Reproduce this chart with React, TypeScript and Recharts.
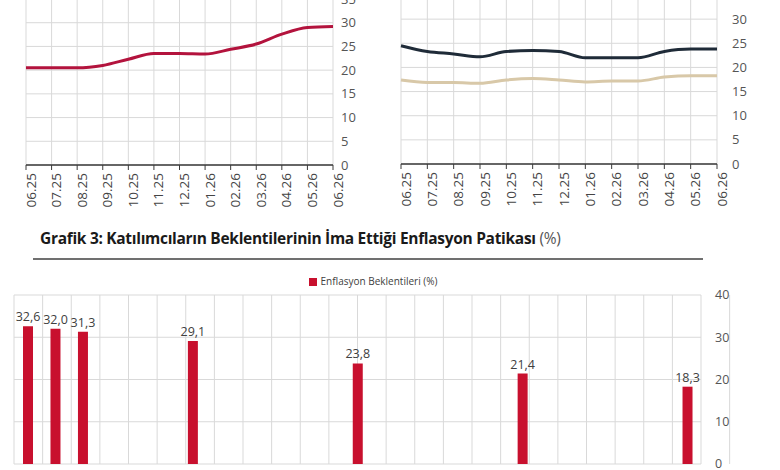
import React from 'react';
import {
  LineChart, Line, BarChart, Bar, XAxis, YAxis, CartesianGrid, Legend, LabelList,
} from 'recharts';

// monthly survey horizon, top panels
const months = ['06.25', '07.25', '08.25', '09.25', '10.25', '11.25', '12.25', '01.26', '02.26', '03.26', '04.26', '05.26', '06.26'];
const leftValues = [20.5, 20.5, 20.5, 21.0, 22.3, 23.5, 23.5, 23.4, 24.4, 25.5, 27.6, 29.0, 29.2];
const darkValues = [24.5, 23.3, 22.8, 22.2, 23.3, 23.5, 23.3, 22.0, 22.0, 22.0, 23.3, 23.8, 23.8];
const beigeValues = [17.4, 16.9, 16.9, 16.7, 17.4, 17.7, 17.4, 17.0, 17.2, 17.2, 18.0, 18.3, 18.3];
const topTicks = [0, 5, 10, 15, 20, 25, 30, 35];

// Grafik 3 – implied inflation path
const pathMonths = [
  '06.25', '07.25', '08.25', '09.25', '10.25', '11.25', '12.25', '01.26', '02.26', '03.26', '04.26', '05.26', '06.26',
  '07.26', '08.26', '09.26', '10.26', '11.26', '12.26', '01.27', '02.27', '03.27', '04.27', '05.27', '06.27',
];
const pathValues: (number | null)[] = [
  32.6, 32.0, 31.3, null, null, null, 29.1, null, null, null, null, null, 23.8,
  null, null, null, null, null, 21.4, null, null, null, null, null, 18.3,
];
const pathTicks = [0, 10, 20, 30, 40];
const boundaryTicks = Array.from({ length: pathMonths.length + 1 }, (_, i) => i);

const topData = months.map((m, i) => ({ m, a: leftValues[i], d: darkValues[i], b: beigeValues[i] }));
const pathData = pathMonths.map((m, i) => ({ m, v: pathValues[i] }));

const font = '"Open Sans", sans-serif';
const gridColor = '#d9d9d9';
const axisColor = '#3a3a3a';

const xTick = { angle: -90, textAnchor: 'end', verticalAnchor: 'middle', fontSize: 13.5, fill: '#444', fontFamily: font } as any;
const yTick = { fontSize: 13, fill: '#555', fontFamily: font };

const fmt = (v: any) => (v == null ? '' : Number(v).toFixed(1).replace('.', ','));

export default function App() {
  return (
    <div style={{ position: 'absolute', left: 0, top: 0, width: 780, height: 470, overflow: 'hidden', background: '#fff', fontFamily: font }}>
      <div style={{ position: 'absolute', left: 0, top: -20 }}>
        <LineChart width={363} height={232} data={topData} margin={{ top: 19, right: 0, left: 26, bottom: 0 }}>
          <CartesianGrid stroke={gridColor} />
          <XAxis dataKey="m" scale="point" padding={{ left: 0, right: 0 }} interval={0} height={47}
            tick={xTick} tickSize={5} tickMargin={3} stroke={axisColor} axisLine={{ stroke: axisColor, strokeWidth: 1.5 }} />
          <YAxis orientation="right" domain={[0, 35]} ticks={topTicks} width={30}
            axisLine={false} tickLine={false} tick={yTick} tickMargin={2} />
          <Line type="monotone" dataKey="a" stroke="#b3133d" strokeWidth={3} dot={false} isAnimationActive={false} />
        </LineChart>
      </div>

      <div style={{ position: 'absolute', left: 390, top: -20 }}>
        <LineChart width={362} height={231} data={topData} margin={{ top: 15, right: 0, left: 11, bottom: 0 }}>
          <CartesianGrid stroke={gridColor} />
          <XAxis dataKey="m" scale="point" padding={{ left: 0, right: 0 }} interval={0} height={47}
            tick={xTick} tickSize={5} tickMargin={3} stroke={axisColor} axisLine={{ stroke: axisColor, strokeWidth: 1.5 }} />
          <YAxis orientation="right" domain={[0, 35]} ticks={topTicks} width={35}
            axisLine={false} tickLine={false} tick={yTick} tickMargin={9} />
          <Line type="monotone" dataKey="b" stroke="#d8c8a8" strokeWidth={3} dot={false} isAnimationActive={false} />
          <Line type="monotone" dataKey="d" stroke="#1f2b38" strokeWidth={3} dot={false} isAnimationActive={false} />
        </LineChart>
      </div>

      <div style={{ position: 'absolute', left: 40, top: 228, fontSize: 15.5, fontWeight: 700, color: '#1a1a1a', letterSpacing: -0.3, whiteSpace: 'nowrap', lineHeight: '20px' }}>
        Grafik 3: Katılımcıların Beklentilerinin İma Ettiği Enflasyon Patikası{' '}
        <span style={{ fontWeight: 400, color: '#555' }}>(%)</span>
      </div>
      <div style={{ position: 'absolute', left: 33, top: 258, width: 670, height: 2, background: '#707070' }} />

      <div style={{ position: 'absolute', left: 0, top: 265 }}>
        <BarChart width={760} height={219} data={pathData} margin={{ top: 16, right: 19, left: 14, bottom: 0 }}>
          <CartesianGrid stroke={gridColor} xAxisId="grid" />
          <XAxis xAxisId="cat" dataKey="m" hide />
          <XAxis xAxisId="grid" type="number" domain={[0, pathMonths.length]} ticks={boundaryTicks} allowDataOverflow
            tickFormatter={() => ''} tickSize={4} height={20} stroke={axisColor} axisLine={{ stroke: axisColor, strokeWidth: 1.5 }} />
          <YAxis orientation="right" domain={[0, 40]} ticks={pathTicks} width={40}
            axisLine={false} tickLine={false} tick={{ fontSize: 12.5, fill: '#555', fontFamily: font }} tickMargin={8} />
          <Legend verticalAlign="top" iconType="square" iconSize={8}
            wrapperStyle={{ top: 9, left: 290, width: 176, fontSize: 10, fontFamily: font }}
            formatter={(value) => <span style={{ color: '#404040' }}>{value}</span>} />
          <Bar xAxisId="cat" dataKey="v" name="Enflasyon Beklentileri (%)" fill="#c8102e" barSize={10} isAnimationActive={false}>
            <LabelList dataKey="v" position="top" formatter={fmt} style={{ fontSize: 12.5, fill: '#404040', fontFamily: font }} />
          </Bar>
        </BarChart>
      </div>
    </div>
  );
}
